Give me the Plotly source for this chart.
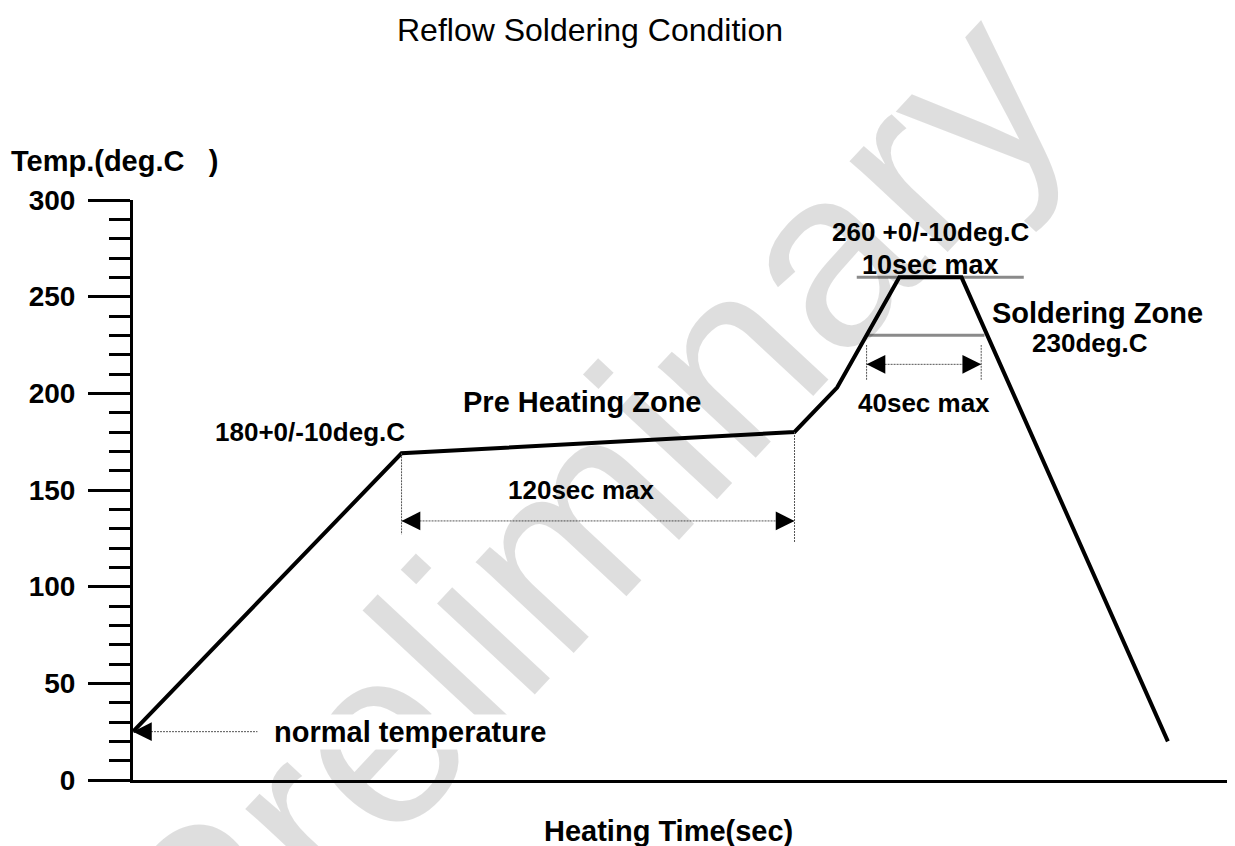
import plotly.graph_objects as go

# ---- data (time in schematic seconds, temperature in deg.C) ----
time_s = [0, 82, 202, 215, 234, 253, 316]
temp_c = [25, 169, 180, 203, 260, 260, 20]

y_tick_vals = [0, 50, 100, 150, 200, 250, 300]
y_tick_text = ["0", "50", "100", "150", "200", "250", "300"]

peak_level = 260
peak_line_x = [221, 272]
solder_level = 230
solder_line_x = [224, 260]

preheat_span_x = [82, 202]        # 120sec max
preheat_dim_y = 134
preheat_tick_bottom = [127, 123]

solder_span_x = [224, 259]        # 40sec max
solder_dim_y = 215
solder_tick_y = [207, 225]

normal_temp = 25
normal_arrow_tail_x = 38

FONT = "Arial, 'Liberation Sans', sans-serif"
# page body adds an 8px offset; compensate so the figure lands where the reference is
PAGE_OFFSET = 8
W, H = 1235 - PAGE_OFFSET, 846 - PAGE_OFFSET

fig = go.Figure()

fig.add_trace(go.Scatter(
    x=time_s, y=temp_c, mode="lines",
    line=dict(color="black", width=4),
    cliponaxis=False, showlegend=False, hoverinfo="skip"))

shapes = []
# gray reference levels
shapes.append(dict(type="line", xref="x", yref="y", x0=peak_line_x[0], x1=peak_line_x[1],
                   y0=peak_level, y1=peak_level, line=dict(color="#8a8a8a", width=3), layer="below"))
shapes.append(dict(type="line", xref="x", yref="y", x0=solder_line_x[0], x1=solder_line_x[1],
                   y0=solder_level, y1=solder_level, line=dict(color="#8a8a8a", width=3), layer="below"))
# dimension lines (dotted)
dot = dict(color="#555555", width=1, dash="2px,1px")
shapes.append(dict(type="line", xref="x", yref="y", x0=preheat_span_x[0], x1=preheat_span_x[0],
                   y0=temp_c[1], y1=preheat_tick_bottom[0], line=dot))
shapes.append(dict(type="line", xref="x", yref="y", x0=preheat_span_x[1], x1=preheat_span_x[1],
                   y0=temp_c[2], y1=preheat_tick_bottom[1], line=dot))
shapes.append(dict(type="line", xref="x", yref="y", x0=preheat_span_x[0], x1=preheat_span_x[1],
                   y0=preheat_dim_y, y1=preheat_dim_y, line=dot))
for xv in solder_span_x:
    shapes.append(dict(type="line", xref="x", yref="y", x0=xv, x1=xv,
                       y0=solder_tick_y[0], y1=solder_tick_y[1], line=dot))
shapes.append(dict(type="line", xref="x", yref="y", x0=solder_span_x[0], x1=solder_span_x[1],
                   y0=solder_dim_y, y1=solder_dim_y, line=dot))
shapes.append(dict(type="line", xref="x", yref="y", x0=0, x1=normal_arrow_tail_x,
                   y0=normal_temp, y1=normal_temp, line=dot))

annotations = []
# watermark first (drawn beneath other annotations)
annotations.append(dict(text="Preliminary", x=137.7, y=138, xref="x", yref="y", showarrow=False,
                        textangle=-47, font=dict(family=FONT, size=253, color="rgba(0,0,0,0.13)")))


def arrow_head(tip_x, tip_y, direction):
    return dict(x=tip_x, y=tip_y, ax=tip_x - 5 * direction, ay=tip_y, xref="x", yref="y",
                axref="x", ayref="y", text="", showarrow=True, arrowhead=2,
                arrowwidth=1.5, arrowsize=2.5, arrowcolor="black", standoff=0)


annotations += [
    arrow_head(preheat_span_x[0], preheat_dim_y, -1),
    arrow_head(preheat_span_x[1], preheat_dim_y, 1),
    arrow_head(solder_span_x[0], solder_dim_y, -1),
    arrow_head(solder_span_x[1], solder_dim_y, 1),
    arrow_head(0, normal_temp, -1),
]


def label(text, x, y, size=27, xanchor="center", bg=None, ref="x"):
    d = dict(text=text, x=x, y=y, xref=ref if ref == "x" else "paper",
             yref="y" if ref == "x" else "paper", showarrow=False, xanchor=xanchor,
             yanchor="middle", font=dict(family=FONT, size=size, color="black", weight="bold"))
    if bg:
        d["bgcolor"] = bg
    return d


annotations += [
    label("Temp.(deg.C\u00a0\u00a0\u00a0)", -0.1125, 1.0672, size=29, xanchor="left", ref="paper"),
    label("180+0/-10deg.C", 54, 180, size=26),
    label("Pre Heating Zone", 137.4, 195.6, size=29),
    label("120sec max", 136.8, 150, size=26),
    label("260 +0/-10deg.C", 243.4, 283.5, size=26),
    label("10sec max", 243.4, 266.4, size=27),
    label("Soldering Zone", 294.4, 241.6, size=29),
    label("230deg.C", 292.2, 226, size=26),
    label("40sec max", 241.5, 195, size=26),
    label("normal temperature", 42.4, 24.8, size=29, xanchor="left", bg="white"),
    label("Heating Time(sec)", 0.4855, -0.0879, size=29, ref="paper"),
]

fig.update_layout(
    width=W, height=H,
    margin=dict(l=133 - PAGE_OFFSET, r=0, t=200 - PAGE_OFFSET, b=66),
    paper_bgcolor="white", plot_bgcolor="white",
    title=dict(text="Reflow Soldering Condition", x=(590 - PAGE_OFFSET) / W, xanchor="center",
               xref="container", y=1 - (30 - PAGE_OFFSET) / H, yanchor="middle", yref="container",
               font=dict(family=FONT, size=32, color="black")),
    shapes=shapes, annotations=annotations,
    xaxis=dict(range=[0, 336.5], showline=True, linecolor="black", linewidth=3,
               showgrid=False, zeroline=False, showticklabels=False, ticks=""),
    yaxis=dict(range=[0, 300], showline=True, linecolor="black", linewidth=3,
               showgrid=False, zeroline=False, tickmode="array",
               tickvals=y_tick_vals, ticktext=y_tick_text,
               ticks="outside", ticklen=42, tickwidth=3, tickcolor="black",
               ticklabelstandoff=7,
               tickfont=dict(family=FONT, size=28, color="black", weight="bold"),
               minor=dict(dtick=10, ticks="outside", ticklen=21, tickwidth=3, tickcolor="black")),
)

fig.write_html("out.html")
